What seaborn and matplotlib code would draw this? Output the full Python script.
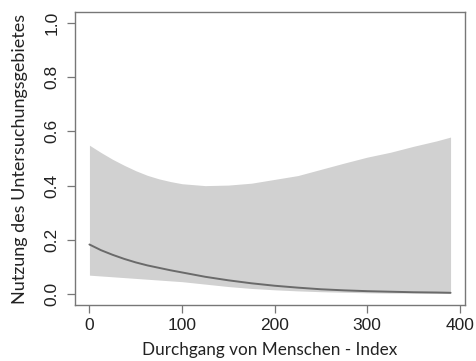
import numpy as np
import pandas as pd
import matplotlib
matplotlib.use("Agg")
import matplotlib.pyplot as plt
import seaborn as sns

# values
index = [0, 12.5, 25, 37.5, 50, 62.5, 75, 87.5, 100, 125, 150, 175, 200, 225, 250,
         275, 300, 325, 350, 375, 390]
mean_use = [0.183, 0.162, 0.145, 0.130, 0.117, 0.106, 0.097, 0.088, 0.080, 0.064,
            0.051, 0.040, 0.031, 0.024, 0.018, 0.014, 0.011, 0.009, 0.007, 0.006, 0.005]
upper = [0.549, 0.522, 0.497, 0.475, 0.455, 0.438, 0.425, 0.415, 0.407, 0.400,
         0.402, 0.409, 0.423, 0.437, 0.460, 0.483, 0.505, 0.523, 0.545, 0.565, 0.579]
lower = [0.070, 0.067, 0.064, 0.061, 0.058, 0.055, 0.052, 0.049, 0.046, 0.037,
         0.028, 0.021, 0.016, 0.012, 0.009, 0.007, 0.005, 0.004, 0.004, 0.003, 0.003]
x_ticks = [0, 100, 200, 300, 400]
y_ticks = [0.0, 0.2, 0.4, 0.6, 0.8, 1.0]

df = pd.DataFrame({"index": index, "mean": mean_use, "upper": upper, "lower": lower})

sns.set_style("white")
plt.rcParams["font.family"] = ["Liberation Sans", "DejaVu Sans"]

fig = plt.figure(figsize=(4.77, 3.61), dpi=100)
ax = fig.add_axes([75 / 477, 56 / 361, 390 / 477, 293 / 361])

ax.fill_between(df["index"], df["lower"], df["upper"], color="#d1d1d1", linewidth=0)
sns.lineplot(data=df, x="index", y="mean", ax=ax, color="#6a6a6a", linewidth=1.4)

ax.set_xlim(-15.6, 405.6)
ax.set_ylim(-0.04, 1.04)
ax.set_xticks(x_ticks)
ax.set_xticklabels([str(t) for t in x_ticks])
ax.set_yticks(y_ticks)
ax.set_yticklabels([f"{t:.1f}" for t in y_ticks], rotation=90, va="center")

for side in ["left", "right", "top", "bottom"]:
    ax.spines[side].set_color("#777777")
    ax.spines[side].set_linewidth(1.0)

ax.tick_params(axis="both", direction="out", length=5.5, width=0.9, color="#777777",
               labelsize=12.5, labelcolor="#222222", bottom=True, left=True)
ax.tick_params(axis="x", pad=3.5)
ax.tick_params(axis="y", pad=5.5)

ax.set_xlabel("Durchgang von Menschen - Index", fontsize=12.3, color="#222222",
              family=["Lato", "DejaVu Sans"], labelpad=7)
ax.set_ylabel("Nutzung des Untersuchungsgebietes", fontsize=13, color="#222222",
              family=["Lato", "DejaVu Sans"], labelpad=12)

fig.savefig("out.png", dpi=100)
